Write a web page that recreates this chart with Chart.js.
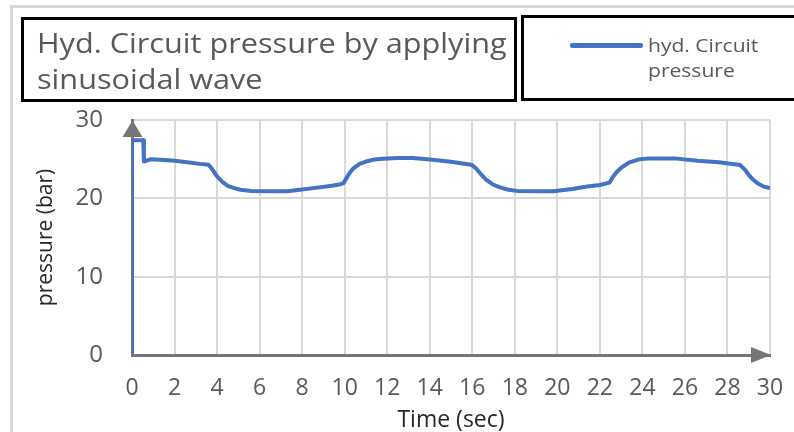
<!DOCTYPE html>
<html>
<head>
<meta charset="utf-8">
<script src="https://cdn.jsdelivr.net/npm/chart.js@4.4.1/dist/chart.umd.min.js"></script>
<style>
    html, body { margin: 0; padding: 0; background: #fff; }
    #wrap { position: relative; width: 794px; height: 432px; overflow: hidden; font-family: 'Open Sans', sans-serif; }
    #frame { position: absolute; left: 10px; top: 5px; width: 900px; height: 600px; border-top: 3px solid #d9d9d9; border-left: 3px solid #d9d9d9; }
    #titleBox { position: absolute; left: 21px; top: 17px; width: 496px; height: 85px; box-sizing: border-box; border: 3px solid #000; }
    #titleText { position: absolute; left: 37px; top: 24px; font-size: 28px; line-height: 36px; color: #595959; white-space: nowrap; transform: scaleX(1.095); transform-origin: 0 0; }
    #legendBox { position: absolute; left: 521px; top: 15px; width: 320px; height: 86px; box-sizing: border-box; border: 3px solid #000; }
    #legendLine { position: absolute; left: 570px; top: 43px; width: 73px; height: 5px; border-radius: 2px; background: #4472C4; }
    #legendText { position: absolute; left: 648px; top: 33px; font-size: 18px; line-height: 25px; color: #595959; white-space: nowrap; transform: scaleX(1.17); transform-origin: 0 0; }
    #chartBox { position: absolute; left: 0; top: 0; width: 794px; height: 432px; }
</style>
</head>
<body>
<div id="wrap">
    <div id="chartBox"><canvas id="pressureChart"></canvas></div>
    <div id="frame"></div>
    <div id="titleBox"></div>
    <div id="titleText">Hyd. Circuit pressure by applying<br>sinusoidal wave</div>
    <div id="legendBox"></div>
    <div id="legendLine"></div>
    <div id="legendText">hyd. Circuit<br>pressure</div>
</div>
<script>
// values
const timeSec = [0, 0, 0.53, 0.56, 0.9, 1.5, 2.0, 2.6, 3.2, 3.6, 3.75, 4.0, 4.25, 4.5, 4.8, 5.1, 5.6, 6.5, 7.3, 7.9, 8.8, 9.4, 9.8, 9.95,
    10.0, 10.2, 10.4, 10.7, 11.0, 11.4, 11.8, 12.5, 13.2, 14.0, 14.9, 15.95, 16.15, 16.4, 16.65, 16.95, 17.3, 17.7, 18.1,
    19.0, 19.8, 20.7, 21.4, 22.0, 22.45, 22.6, 22.8, 23.05, 23.4, 23.8, 24.3, 25.5, 26.6, 27.6, 28.6,
    28.8, 29.0, 29.2, 29.45, 29.7, 30];
const pressureBar = [0, 27.4, 27.4, 24.7, 25.0, 24.9, 24.8, 24.6, 24.4, 24.3, 23.8, 22.8, 22.1, 21.6, 21.3, 21.1, 20.95, 20.9, 20.9, 21.1, 21.4, 21.6, 21.8, 21.95,
    22.2, 23.1, 23.8, 24.4, 24.7, 24.95, 25.05, 25.15, 25.15, 24.95, 24.7, 24.3, 23.9, 23.1, 22.4, 21.8, 21.4, 21.1, 20.95,
    20.9, 20.9, 21.2, 21.5, 21.7, 22.0, 22.7, 23.4, 24.0, 24.6, 24.95, 25.1, 25.1, 24.8, 24.6, 24.25,
    23.7, 23.0, 22.4, 21.85, 21.5, 21.3];
const xTickValues = [0, 2, 4, 6, 8, 10, 12, 14, 16, 18, 20, 22, 24, 26, 28, 30];
const yTickValues = [0, 10, 20, 30];

const seriesName = 'hyd. Circuit pressure';
const lineColor = '#4472C4';
const axisColor = '#767676';
const gridColor = '#d9d9d9';
const labelColor = '#595959';

document.addEventListener('DOMContentLoaded', function() {
    const points = timeSec.map((t, i) => ({ x: t, y: pressureBar[i] }));

    // arrow heads at the end of both axes
    const axisArrows = {
        id: 'axisArrows',
        afterDraw(chart) {
            const ctx = chart.ctx;
            const xs = chart.scales.x;
            const ys = chart.scales.y;
            const x0 = xs.getPixelForValue(0);
            const xEnd = xs.getPixelForValue(30);
            const y0 = ys.getPixelForValue(0);
            const yEnd = ys.getPixelForValue(30);
            ctx.save();
            ctx.fillStyle = axisColor;
            ctx.beginPath();
            ctx.moveTo(x0 + 0.5, yEnd + 0.5);
            ctx.lineTo(x0 - 9.5, yEnd + 17);
            ctx.lineTo(x0 + 10.5, yEnd + 17);
            ctx.closePath();
            ctx.fill();
            ctx.beginPath();
            ctx.moveTo(xEnd + 1, y0);
            ctx.lineTo(xEnd - 19, y0 - 8);
            ctx.lineTo(xEnd - 19, y0 + 8);
            ctx.closePath();
            ctx.fill();
            ctx.restore();
        }
    };

    const ctx = document.getElementById('pressureChart').getContext('2d');
    new Chart(ctx, {
        type: 'line',
        data: {
            datasets: [{
                label: seriesName,
                data: points,
                borderColor: lineColor,
                backgroundColor: lineColor,
                borderWidth: 4,
                pointRadius: 0,
                tension: 0,
                borderJoinStyle: 'round',
                fill: false
            }]
        },
        options: {
            responsive: true,
            maintainAspectRatio: false,
            devicePixelRatio: 1,
            animation: false,
            layout: { padding: { top: 120, right: 24, left: 0, bottom: 0 } },
            plugins: {
                legend: { display: false },
                title: { display: false },
                tooltip: { enabled: false }
            },
            scales: {
                x: {
                    type: 'linear',
                    min: 0,
                    max: 30,
                    afterBuildTicks: function(scale) {
                        scale.ticks = xTickValues.map(v => ({ value: v }));
                    },
                    afterFit: function(scale) {
                        scale.height = 77;
                        scale.paddingLeft = 0;
                        scale.paddingRight = 0;
                    },
                    grid: { color: gridColor, lineWidth: 2, drawTicks: false },
                    border: { display: true, color: axisColor, width: 3 },
                    ticks: {
                        padding: 20,
                        color: labelColor,
                        maxRotation: 0,
                        autoSkip: false,
                        font: { family: 'Open Sans', size: 23 }
                    },
                    title: {
                        display: true,
                        text: 'Time (sec)',
                        color: '#262626',
                        padding: 0,
                        font: { family: 'Open Sans', size: 23, lineHeight: 1 }
                    }
                },
                y: {
                    min: 0,
                    max: 30,
                    afterBuildTicks: function(scale) {
                        scale.ticks = yTickValues.map(v => ({ value: v }));
                    },
                    afterFit: function(scale) { scale.width = 132; },
                    grid: { color: gridColor, lineWidth: 2, drawTicks: false },
                    border: { display: true, color: axisColor, width: 3 },
                    ticks: {
                        padding: 29,
                        color: labelColor,
                        font: { family: 'Open Sans', size: 24 }
                    },
                    title: {
                        display: true,
                        text: 'pressure (bar)',
                        color: '#262626',
                        padding: { top: 36, bottom: 0 },
                        font: { family: 'Open Sans', size: 21, lineHeight: 1 }
                    }
                }
            }
        },
        plugins: [axisArrows]
    });
});
</script>
</body>
</html>
